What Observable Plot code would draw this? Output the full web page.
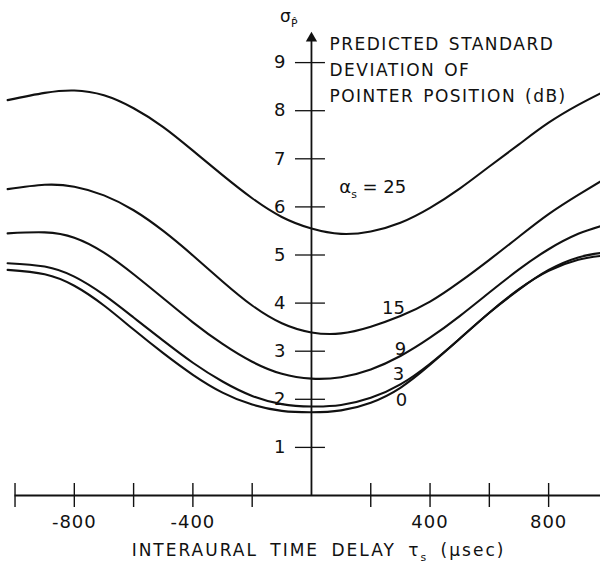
<!DOCTYPE html>
<html><head><meta charset="utf-8">
<script src="https://cdn.jsdelivr.net/npm/d3@7"></script>
<script src="https://cdn.jsdelivr.net/npm/@observablehq/plot@0.6"></script>
<style>html,body{margin:0;padding:0;background:#fff}</style>
</head><body><div id="chart"></div>
<script>
// ---- data ----
const delays  = [-1025, -900, -800, -700, -600, -500, -400, -300, -200, -100, 0, 100, 200, 300, 400, 500, 600, 700, 800, 900, 975];
const sigma25 = [8.22, 8.37, 8.42, 8.32, 8.05, 7.66, 7.17, 6.66, 6.18, 5.79, 5.55, 5.44, 5.49, 5.67, 5.98, 6.38, 6.84, 7.30, 7.75, 8.12, 8.36];
const sigma15 = [6.37, 6.46, 6.42, 6.24, 5.93, 5.50, 4.99, 4.45, 3.95, 3.58, 3.39, 3.37, 3.51, 3.73, 4.03, 4.44, 4.90, 5.38, 5.85, 6.25, 6.53];
const sigma9  = [5.45, 5.47, 5.36, 5.05, 4.60, 4.10, 3.60, 3.15, 2.78, 2.53, 2.43, 2.46, 2.62, 2.90, 3.28, 3.73, 4.22, 4.70, 5.12, 5.44, 5.60];
const sigma3  = [4.83, 4.76, 4.55, 4.17, 3.70, 3.22, 2.76, 2.37, 2.07, 1.90, 1.85, 1.88, 2.03, 2.31, 2.74, 3.26, 3.80, 4.29, 4.67, 4.90, 4.98];
const sigma0  = [4.69, 4.60, 4.36, 3.95, 3.45, 2.96, 2.51, 2.14, 1.89, 1.76, 1.73, 1.77, 1.93, 2.24, 2.72, 3.26, 3.80, 4.28, 4.69, 4.95, 5.04];
const alphaLevels = [25, 15, 9, 3, 0];
const curveLabels = ["α_{s} = 25", "15", "9", "3", "0"];
const xTicks = [-1000, -800, -600, -400, -200, 200, 400, 600, 800];
const xTickLabels = [-800, -400, 400, 800];
const yTicks = [1, 2, 3, 4, 5, 6, 7, 8, 9];
const yAxisTop = 9.63;
const titleText = "INTERAURAL TIME DELAY τ_{s} (μsec)";
const noteText = "PREDICTED STANDARD\nDEVIATION OF\nPOINTER POSITION (dB)";
const yLabelText = "σ_{P̂}";

// ---- layout ----
const W = 600, H = 568;
const xDomain = [-1049, 975];
const yDomain = [0, 10];
const yRange = [495, 14];
const pxX = (xDomain[1] - xDomain[0]) / W;
const pxY = (yDomain[1] - yDomain[0]) / (yRange[0] - yRange[1]);

const seriesByAlpha = {25: sigma25, 15: sigma15, 9: sigma9, 3: sigma3, 0: sigma0};
const rows = alphaLevels.flatMap(a => delays.map((d, i) => ({alpha: a, delay: d, sigma: seriesByAlpha[a][i]})));

const labelAt = [12, 13, 13, 13, 13];
const labelOff = [[2, -44], [-7, -8], [0, -7], [-2, -10], [1, 12]];
const labelRows = alphaLevels.map((a, k) => ({
  text: curveLabels[k], delay: delays[labelAt[k]], sigma: seriesByAlpha[a][labelAt[k]],
  dx: labelOff[k][0], dy: labelOff[k][1]
}));

const ink = "#111";
const marks = [
  Plot.ruleY([0], {x1: xTicks[0], x2: xDomain[1], stroke: ink, strokeWidth: 1.8}),
  Plot.ruleX([0], {y1: 0, y2: yAxisTop - 6 * pxY, stroke: ink, strokeWidth: 1.8}),
  Plot.dot([yAxisTop], {x: 0, y: d => d, symbol: "triangle", r: 4.2, fill: ink, stroke: "none", dy: 6}),
  Plot.ruleX(xTicks, {x: d => d, y1: -12 * pxY, y2: 12 * pxY, stroke: ink, strokeWidth: 1.4}),
  Plot.ruleY(yTicks, {y: d => d, x1: -16 * pxX, x2: 14 * pxX, stroke: ink, strokeWidth: 1.3}),
  Plot.text(yTicks, {x: 0, y: d => d, text: d => String(d), textAnchor: "end", dx: -26, fontSize: 18, fill: ink}),
  Plot.text(xTickLabels, {x: d => d, y: 0, text: d => (d < 0 ? "-" + (-d) : String(d)), dy: 27, fontSize: 18, fill: ink}),
  Plot.line(rows, {x: "delay", y: "sigma", z: "alpha", stroke: ink, strokeWidth: 2.1, curve: "natural"}),
  ...labelRows.map(r => Plot.text([r], {x: "delay", y: "sigma", text: "text", dx: r.dx, dy: r.dy, fontSize: 18, fill: ink})),
  Plot.text([noteText], {x: 0, y: 9, text: d => d, textAnchor: "start", dx: 18, dy: 5, fontSize: 17, lineHeight: 1.53, fill: ink}),
  Plot.text([yLabelText], {x: 0, y: yAxisTop, text: d => d, textAnchor: "end", dx: -14, dy: -16, fontSize: 17, fill: ink}),
  Plot.text([titleText], {frameAnchor: "bottom", lineAnchor: "middle", text: d => d, dx: 18, dy: -18, fontSize: 17, fill: ink})
];

const plot = Plot.plot({
  width: W, height: H, margin: 0,
  x: {domain: xDomain, range: [0, W], axis: null},
  y: {domain: yDomain, range: yRange, axis: null},
  style: {fontFamily: "'DejaVu Sans', sans-serif", background: "#fff", color: ink},
  marks
});

// letter / word spacing picked by the text content
plot.querySelectorAll("text").forEach(t => {
  const s = t.textContent;
  let ls = null, ws = 0;
  if (s.startsWith("INTERAURAL")) { ls = 2; ws = 5; }
  else if (s.startsWith("PREDICTED")) { ls = 1.5; ws = 2; }
  else if (/^-?\d00$/.test(s)) { ls = 1; }
  if (ls !== null) {
    t.setAttribute("letter-spacing", ls);
    t.setAttribute("word-spacing", ws);
    t.style.letterSpacing = ls + "px";
    t.style.wordSpacing = ws + "px";
  }
});

function applySubscripts(svg) {
  const NS = "http://www.w3.org/2000/svg";
  svg.querySelectorAll("text").forEach(t => {
    const fs = parseFloat(t.getAttribute("font-size")) || parseFloat(getComputedStyle(t).fontSize) || 16;
    const targets = t.querySelector("tspan") ? [...t.querySelectorAll("tspan")] : [t];
    targets.forEach(el => {
      const s = el.textContent;
      if (!s.includes("_{")) return;
      const parts = s.split(/_\{([^}]*)\}/);
      el.textContent = "";
      const shift = fs * 0.32;
      parts.forEach((p, i) => {
        if (p === "" && i % 2 === 0 && i !== 0) return;
        const ts = document.createElementNS(NS, "tspan");
        ts.textContent = p;
        if (i % 2 === 1) { ts.setAttribute("font-size", fs * 0.68); ts.setAttribute("dy", shift); }
        else if (i > 0) { ts.setAttribute("dy", -shift); }
        el.appendChild(ts);
      });
    });
  });
}
applySubscripts(plot);
document.getElementById("chart").appendChild(plot);
</script>
</body></html>
